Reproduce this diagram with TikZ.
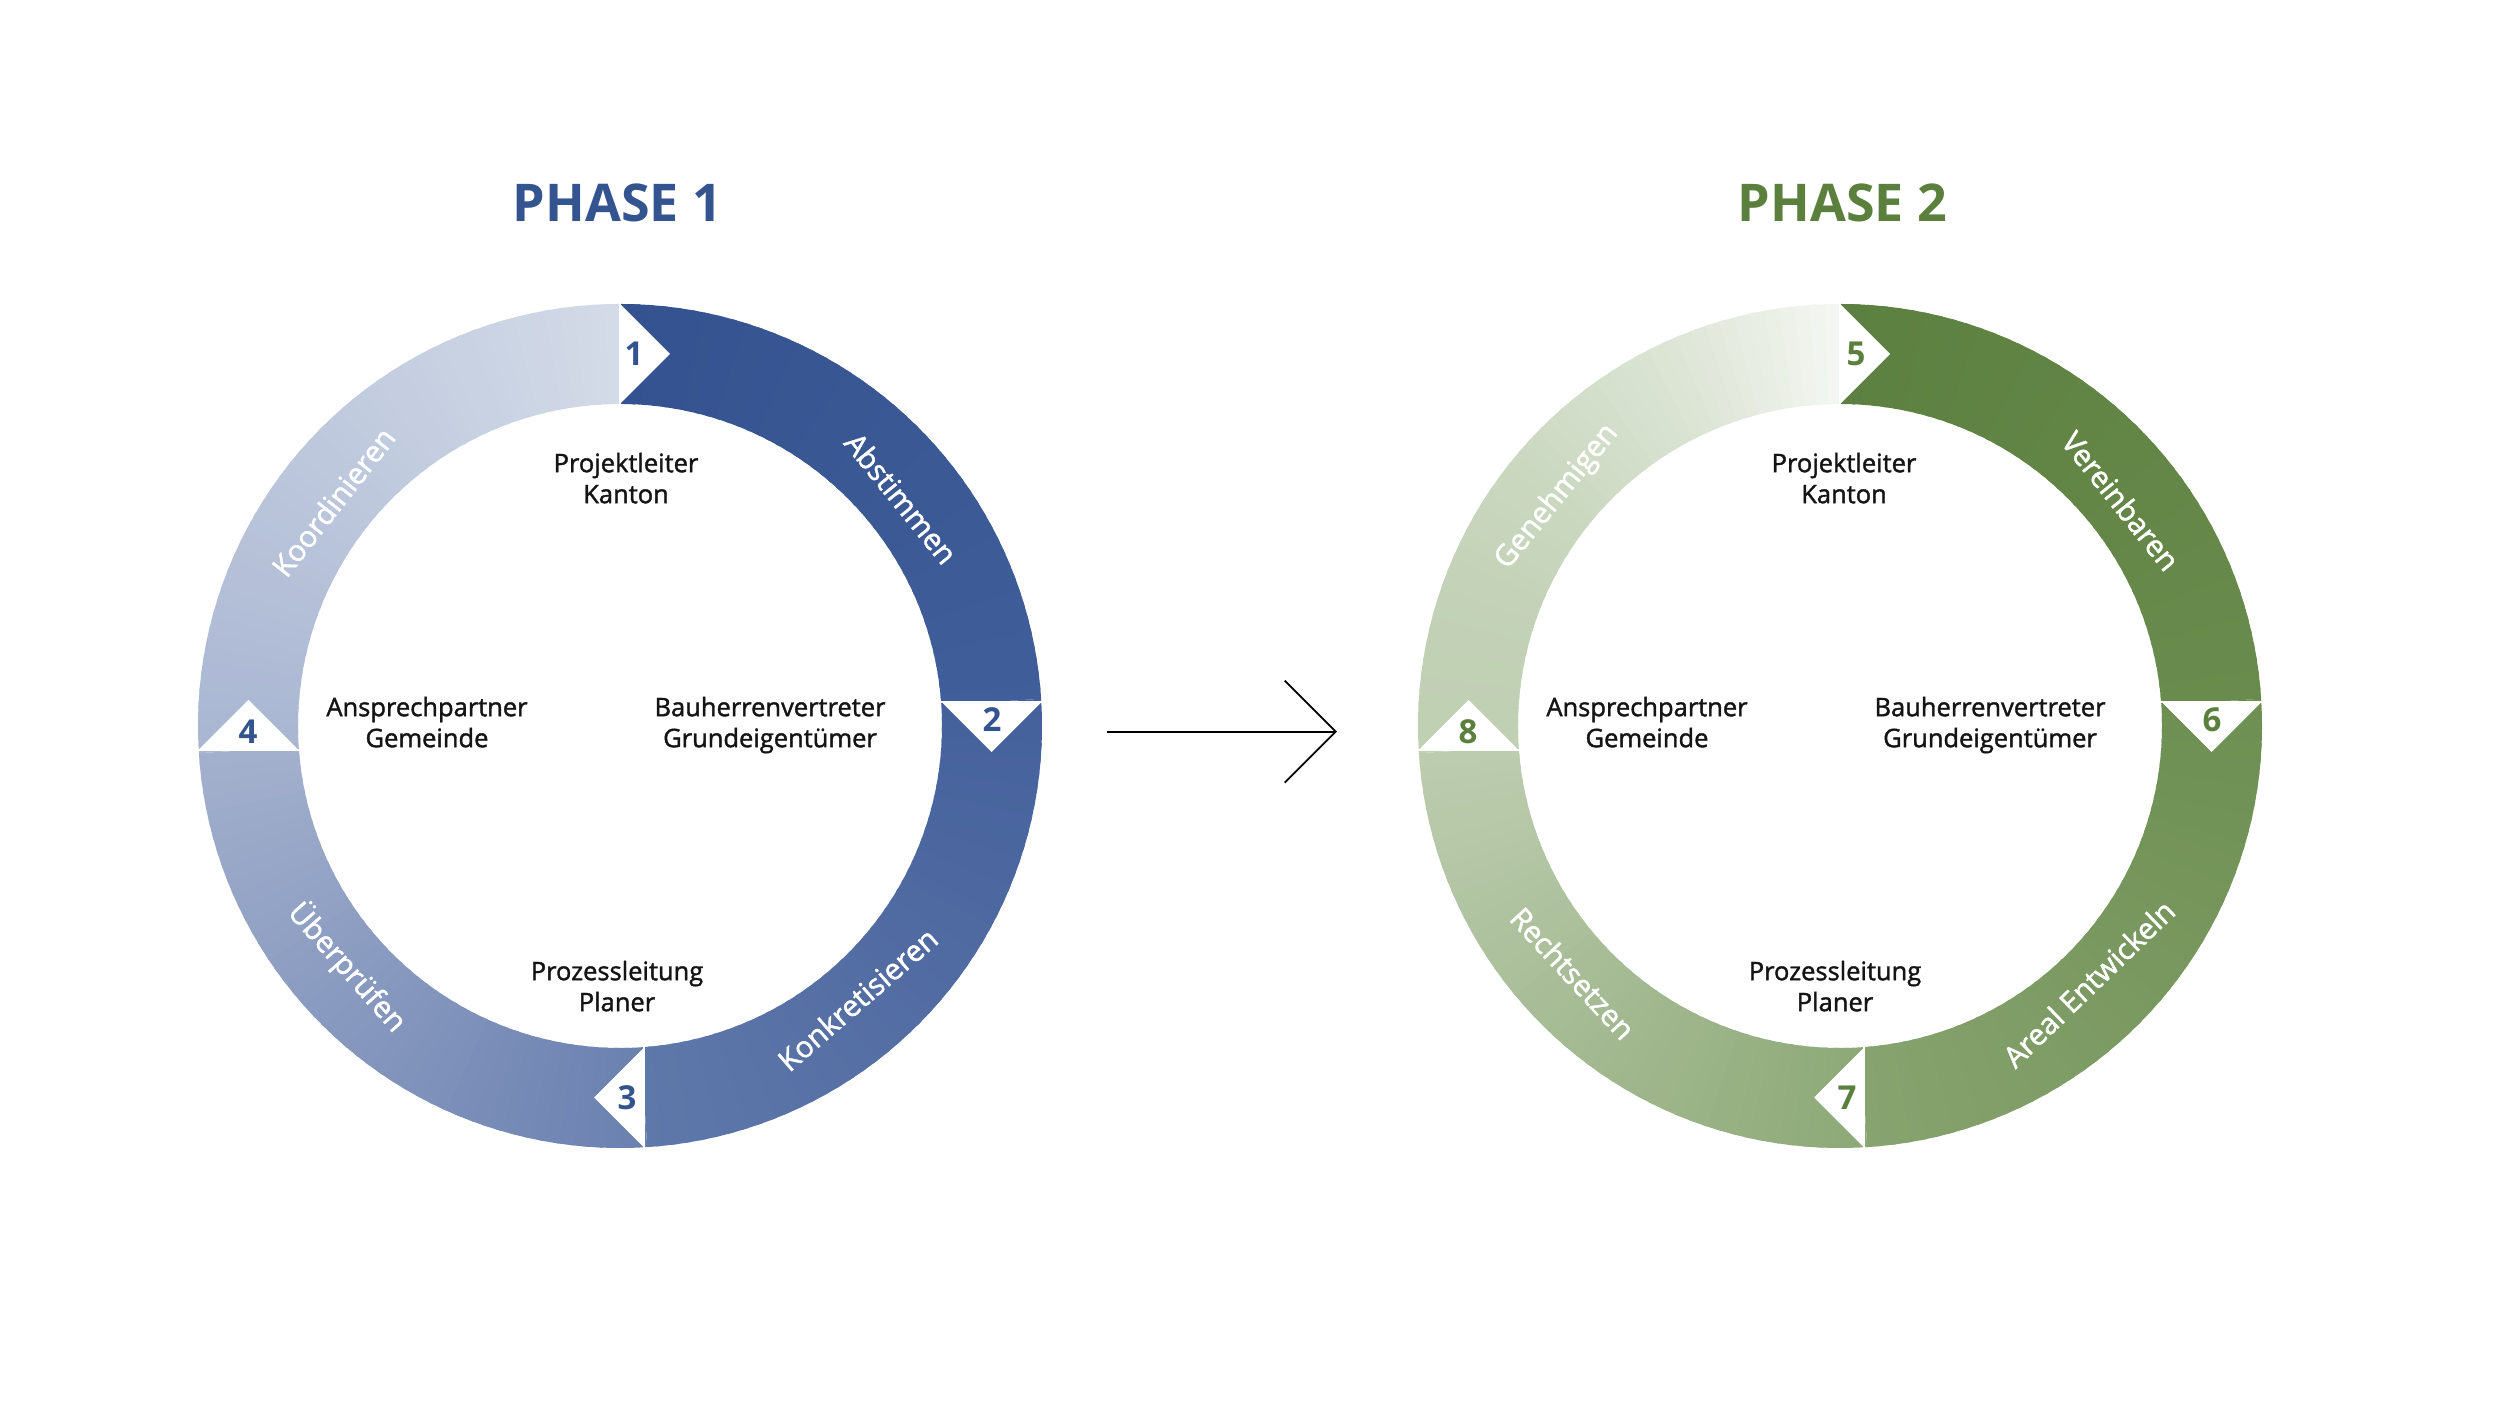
\documentclass[tikz,border=0pt]{standalone}
\usepackage{fontspec}
\setmainfont{Open Sans}
\newfontfamily\medfont{Open Sans}[FakeBold=1.5]
\usetikzlibrary{arrows.meta}

\definecolor{phaseblue}{HTML}{34548F}
\definecolor{phasegreen}{HTML}{5B7F3D}
\definecolor{txtdark}{HTML}{141414}
% ring colours, start and end of each quarter
\definecolor{bA}{HTML}{33528F}\definecolor{bAe}{HTML}{405E99}
\definecolor{bB}{HTML}{45619C}\definecolor{bBe}{HTML}{5F78AA}
\definecolor{bC}{HTML}{6A80B0}\definecolor{bCe}{HTML}{A3B0CD}
\definecolor{bD}{HTML}{A9B6D2}\definecolor{bDe}{HTML}{D3DBE8}
\definecolor{gA}{HTML}{5C8040}\definecolor{gAe}{HTML}{698B4D}
\definecolor{gB}{HTML}{6D8F52}\definecolor{gBe}{HTML}{87A36F}
\definecolor{gC}{HTML}{8DA977}\definecolor{gCe}{HTML}{BDCDB0}
\definecolor{gD}{HTML}{C0D0B3}\definecolor{gDe}{HTML}{F5F7F3}

% quarter of the ring, clockwise from #1 to #2, colour #3 -> #4, curve #5
\newcommand{\ringpart}[5]{%
  \foreach \k in {0,...,44}{%
    \pgfmathsetmacro{\angA}{#1-(#1-(#2))*\k/45}%
    \pgfmathsetmacro{\angB}{max(#2,#1-(#1-(#2))*(\k+1.4)/45)}%
    \pgfmathsetmacro{\pcmix}{100*(1-((\k+0.5)/45)^#5)}%
    \fill[#3!\pcmix!#4] (\angA:422pt) arc[start angle=\angA,end angle=\angB,radius=422pt]
      -- (\angB:322pt) arc[start angle=\angB,end angle=\angA,radius=322pt] -- cycle;
  }}

\begin{document}
\begin{tikzpicture}[x=1pt,y=1pt,
  >={Straight Barb[length=51pt,width=102pt]},
  lbl/.style={font=\medfont\fontsize{25.5}{31}\selectfont,align=center,text=txtdark,text depth=0pt},
  seglbl/.style={font=\medfont\fontsize{29.5}{30}\selectfont,text=white},
  nr/.style={font=\bfseries\fontsize{33}{33}\selectfont},
  ttl/.style={font=\bfseries\fontsize{52}{52}\selectfont},
  notch/.style={fill=white},
  cut/.style={white,line width=2pt}]

  \fill[white] (0,0) rectangle (2500,1407);
  \useasboundingbox (0,0) rectangle (2500,1407);

  \begin{scope}[shift={(620,681)}]
    \ringpart{90}{3.7}{bA}{bAe}{1}
    \ringpart{3.7}{-86.3}{bB}{bBe}{1}
    \ringpart{-86.3}{-176.3}{bC}{bCe}{1}
    \ringpart{-176.3}{-270}{bD}{bDe}{1}
    \draw[cut] (0,320) -- (0,424);
    \draw[cut] (319,24) -- (424,24);
    \draw[cut] (24,-319) -- (24,-424);
    \draw[cut] (-319,-24) -- (-424,-24);
    \fill[notch] (0,322) -- (0,422) -- (50,372) -- cycle;
    \fill[notch] (321.5,24) -- (421.5,24) -- (371.5,-26) -- cycle;
    \fill[notch] (24,-321.5) -- (24,-421.5) -- (-26,-371.5) -- cycle;
    \fill[notch] (-321.5,-24) -- (-421.5,-24) -- (-371.5,26) -- cycle;
    \node[nr,text=phaseblue] (n1) at (14,372) {1};
    \node[nr,text=phaseblue] (n2) at (372,6) {2};
    \node[nr,text=phaseblue] (n3) at (7,-372) {3};
    \node[nr,text=phaseblue] (n4) at (-372,-6) {4};

    \node[ttl,text=phaseblue] (ph1) at (-2.5,523) {PHASE 1};
    \node[lbl] (pl1) at (6,248) {Projektleiter\\Kanton};
    \node[lbl] (ap1) at (-193,4) {Ansprechpartner\\Gemeinde};
    \node[lbl] (bv1) at (150,4) {Bauherrenvertreter\\Grundeigentümer};
    \node[lbl] (pz1) at (-3,-260) {Prozessleitung\\Planer};

    \node[seglbl,rotate=-51] (s1) at (39:362) {Abstimmen};
    \node[seglbl,rotate=41] (s2) at (-49:362) {Konkretisieren};
    \node[seglbl,rotate=-48.5] (s3) at (-138.5:364) {Überprüfen};
    \node[seglbl,rotate=52] (s4) at (142:364) {Koordinieren};
  \end{scope}

  \coordinate (go) at (1107,675.3);
  \coordinate (gt) at (1337,675.3);
  \draw[->,line width=1.8pt] (go) -- (gt);

  \begin{scope}[shift={(1840,681)}]
    \ringpart{90}{3.7}{gA}{gAe}{1}
    \ringpart{3.7}{-86.3}{gB}{gBe}{1}
    \ringpart{-86.3}{-176.3}{gC}{gCe}{1}
    \ringpart{-176.3}{-270}{gD}{gDe}{2}
    \draw[cut] (0,320) -- (0,424);
    \draw[cut] (319,24) -- (424,24);
    \draw[cut] (24,-319) -- (24,-424);
    \draw[cut] (-319,-24) -- (-424,-24);
    \fill[notch] (0,322) -- (0,422) -- (50,372) -- cycle;
    \fill[notch] (321.5,24) -- (421.5,24) -- (371.5,-26) -- cycle;
    \fill[notch] (24,-321.5) -- (24,-421.5) -- (-26,-371.5) -- cycle;
    \fill[notch] (-321.5,-24) -- (-421.5,-24) -- (-371.5,26) -- cycle;
    \node[nr,text=phasegreen] (n5) at (16,372) {5};
    \node[nr,text=phasegreen] (n6) at (372,6) {6};
    \node[nr,text=phasegreen] (n7) at (7,-372) {7};
    \node[nr,text=phasegreen] (n8) at (-372,-6) {8};

    \node[ttl,text=phasegreen] (ph2) at (2.5,523) {PHASE 2};
    \node[lbl] (pl2) at (4,248) {Projektleiter\\Kanton};
    \node[lbl] (ap2) at (-193,4) {Ansprechpartner\\Gemeinde};
    \node[lbl] (bv2) at (150,4) {Bauherrenvertreter\\Grundeigentümer};
    \node[lbl] (pz2) at (-5,-260) {Prozessleitung\\Planer};

    \node[seglbl,rotate=-51.3] (s5) at (38.7:360) {Vereinbaren};
    \node[seglbl,rotate=44] (s6) at (-46:358) {Areal Entwickeln};
    \node[seglbl,rotate=-47.2] (s7) at (-137.2:364) {Rechtsetzen};
    \node[seglbl,rotate=51] (s8) at (141:364) {Genehmigen};
  \end{scope}
\end{tikzpicture}
\end{document}
